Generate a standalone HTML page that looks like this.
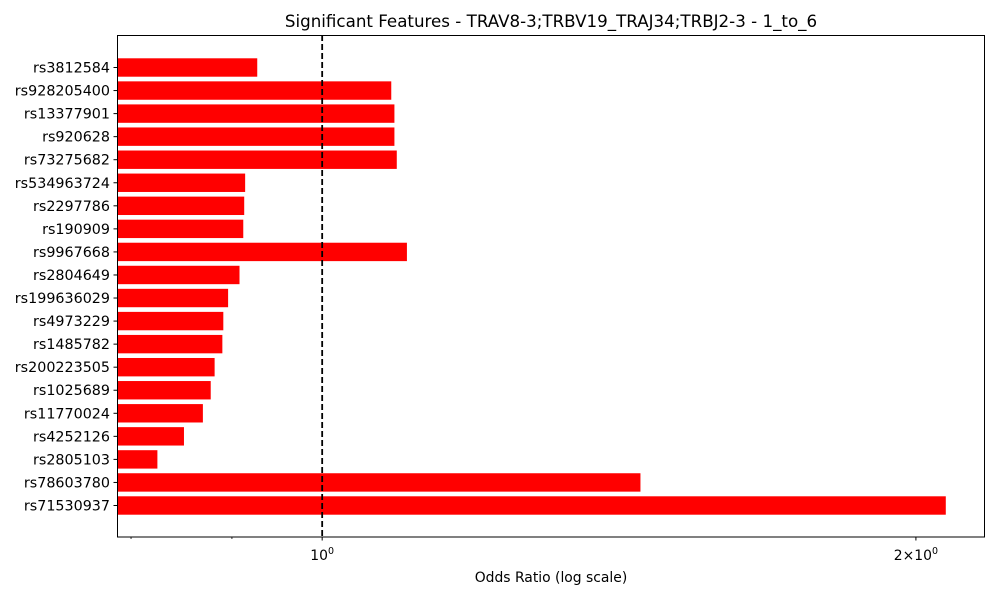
<!DOCTYPE html>
<html><head><meta charset="utf-8"><style>body{margin:0;background:#fff}svg{display:block;font-family:"DejaVu Sans","Liberation Sans",sans-serif}</style></head>
<body>
<svg id="chart" width="1000" height="600" viewBox="0 0 1000 600" xmlns="http://www.w3.org/2000/svg">
<rect width="1000" height="600" fill="#fff"/>
<text x="551" y="27" text-anchor="middle" font-size="16.7">Significant Features - TRAV8-3;TRBV19_TRAJ34;TRBJ2-3 - 1_to_6</text>
<g id="bars"></g>
<g id="yticks"></g>
<g id="xticks"></g>
<line id="refline" y1="35" y2="537" stroke="#000" stroke-width="1.8" stroke-dasharray="6,3"/>
<rect x="117.5" y="35.5" width="867" height="501.5" fill="none" stroke="#000" stroke-width="1"/>
<text x="551" y="582" text-anchor="middle" font-size="13.9">Odds Ratio (log scale)</text>
</svg>
<script>
const categories=["rs3812584","rs928205400","rs13377901","rs920628","rs73275682","rs534963724","rs2297786","rs190909","rs9967668","rs2804649","rs199636029","rs4973229","rs1485782","rs200223505","rs1025689","rs11770024","rs4252126","rs2805103","rs78603780","rs71530937"];
const oddsRatios=[0.927,1.084,1.088,1.088,1.091,0.914,0.913,0.912,1.104,0.908,0.896,0.891,0.890,0.882,0.878,0.870,0.851,0.825,1.450,2.071];
const majorTicks=[1,2];
const majorLabels=["10","2\u00d710"];
const minorTicks=[0.8,0.9];
const refValue=1;
const NS="http://www.w3.org/2000/svg";
const X0=117,X1=985,xmin=0.787,xmax=2.168;
function x(v){return X0+(Math.log10(v)-Math.log10(xmin))/(Math.log10(xmax)-Math.log10(xmin))*(X1-X0);}
const rowTop=67.5,rowStep=(505.5-67.5)/19;
function y(i){return rowTop+i*rowStep;}
function mk(t,a,p){const e=document.createElementNS(NS,t);for(const k in a)e.setAttribute(k,a[k]);p.appendChild(e);return e;}
const bars=document.getElementById('bars'),yt=document.getElementById('yticks'),xt=document.getElementById('xticks');
categories.forEach((c,i)=>{
  const r=mk('rect',{x:X0,y:y(i)-9.2,width:Math.max(0,x(oddsRatios[i])-X0),height:18.4,fill:'#ff0000'},bars);
  
  
  const tk=mk('line',{x1:X0-3.5,x2:X0,y1:y(i),y2:y(i),stroke:'#000'},yt);
  
  
  const t=mk('text',{x:X0-7,y:y(i)+5,'text-anchor':'end','font-size':14.3},yt);
  t.textContent=c;
  
  
});
majorTicks.forEach((v,i)=>{
  const l=mk('line',{x1:x(v),x2:x(v),y1:537,y2:540.5,stroke:'#000'},xt);
  
  
  const t=mk('text',{x:x(v),y:560,'text-anchor':'middle','font-size':13.9},xt);
  t.textContent=majorLabels[i];
  const s=mk('tspan',{'font-size':9.5,dy:-6},t);s.textContent='0';
  
  
});
minorTicks.forEach(v=>{
  const l=mk('line',{x1:x(v),x2:x(v),y1:537,y2:539,stroke:'#000',"stroke-width":0.8},xt);
  
  
});
const rl=document.getElementById('refline');rl.setAttribute('x1',x(refValue));rl.setAttribute('x2',x(refValue));
</script>
</body></html>
